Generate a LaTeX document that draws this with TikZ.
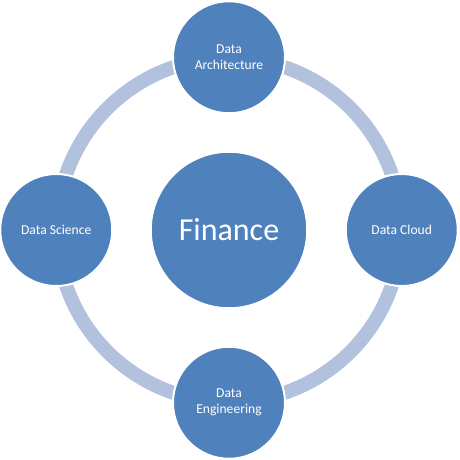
\documentclass[tikz,border=0pt]{standalone}
\usepackage{fontspec}
\setmainfont{Carlito}
\usepackage{tikz}
\usetikzlibrary{positioning}
\definecolor{cycblue}{RGB}{79, 129, 189}
\definecolor{cyclight}{RGB}{177, 193, 222}

\begin{document}
\begin{tikzpicture}[x=1pt, y=-1pt,
  every node/.style={font=\fontsize{13.6}{16}\selectfont, text=white, align=center},
  hub/.style={circle, fill=cycblue, draw=white, line width=1.5pt, minimum size=156pt, inner sep=0pt},
  sat/.style={circle, fill=cycblue, draw=white, line width=2pt, minimum size=112pt, inner sep=0pt}]
\useasboundingbox (0,0) rectangle (460,460);
\node[hub, font=\fontsize{32}{38}\selectfont] (fin) at (229,230) {Finance};
\draw[cyclight, line width=14pt] (fin.center) circle[radius=172pt];
\node[sat, above=37pt of fin] (arch) {Data\\Architecture};
\node[sat, below=37pt of fin] (eng) {Data\\Engineering};
\node[sat, left=37pt of fin] (sci) {Data Science};
\node[sat, right=37pt of fin] (cloud) {Data Cloud};
\end{tikzpicture}
\end{document}
